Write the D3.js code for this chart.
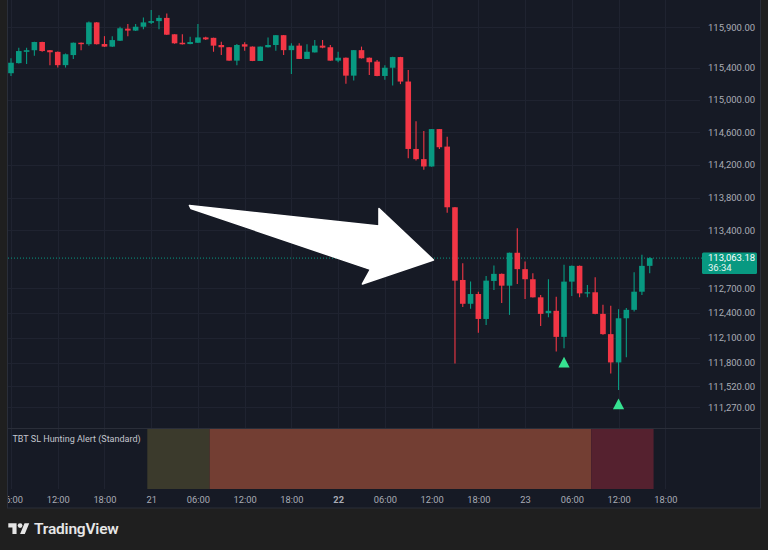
<!DOCTYPE html>
<html><head><meta charset="utf-8">
<script src="https://cdn.jsdelivr.net/npm/d3@7"></script>
<style>
html,body{margin:0;padding:0;background:#1f1f1f;}
svg{display:block;}
text{font-family:Roboto,"Noto Sans",sans-serif;}
</style></head><body>
<svg id="c" width="768" height="550"></svg>
<script>
// ---------- DATA ----------
const startTime = "2025-08-20T06:00:00"; // first hourly candle
const opens  = [115330,115455,115595,115615,115717,115615,115595,115430,115555,115708,
  115690,115961,115692,115660,115733,115883,115859,115907,115956,115977,
  116017,115813,115708,115692,115708,115774,115769,115680,115652,115486,
  115689,115660,115482,115652,115680,115802,115616,115672,115507,115588,
  115672,115652,115486,115522,115300,115616,115522,115474,115296,115398,
  115530,115227,114396,114271,114181,114640,114425,113682,112798,112510,
  112628,112327,112786,112872,112729,113128,112929,112807,112588,112397,
  112425,112111,112778,112969,112636,112649,112388,112144,111804,112335,
  112437,112656,112969];
const highs  = [115515,115645,115645,115720,115720,115618,115600,115575,115710,115710,
  115973,115965,115790,115790,115907,115940,115940,116022,116115,116050,
  116071,115815,115813,115782,115940,115782,115771,115720,115656,115692,
  115713,115662,115662,115774,115803,115803,115701,115701,115689,115741,
  115741,115680,115596,115525,115618,115660,115525,115494,115430,115533,
  115533,115370,114738,114616,114642,114642,114546,113685,113002,112778,
  112656,112847,112973,112875,113130,113426,113022,112880,112616,112807,
  112595,112981,112972,112972,112738,112831,112498,112486,112445,112458,
  112892,113103,113075];
const lows   = [115295,115450,115445,115545,115595,115430,115400,115400,115505,115615,
  115670,115685,115655,115655,115730,115790,115855,115876,115940,115876,
  115803,115696,115686,115689,115706,115741,115596,115555,115483,115430,
  115608,115480,115480,115650,115608,115555,115321,115505,115505,115586,
  115640,115483,115466,115199,115239,115512,115309,115293,115248,115178,
  115195,114283,114254,114140,114178,114396,113616,111792,112470,112449,
  112160,112254,112677,112518,112376,112750,112567,112585,112242,112348,
  111934,111975,112604,112588,112588,112385,112137,111670,111473,111865,
  112416,112616,112880];
const closes = [115460,115605,115615,115717,115605,115590,115430,115565,115708,115690,
  115961,115690,115660,115741,115888,115859,115907,115961,115977,116017,
  115808,115701,115689,115717,115774,115750,115672,115652,115486,115680,
  115660,115482,115660,115680,115802,115616,115672,115507,115596,115672,
  115647,115486,115522,115300,115616,115515,115466,115296,115398,115530,
  115227,114396,114271,114181,114640,114417,113682,112790,112510,112628,
  112327,112790,112872,112729,113128,112929,112807,112588,112388,112425,
  112111,112778,112969,112636,112649,112388,112144,111804,112335,112437,
  112656,112969,113063.18];
const priceTicks = [115900,115400,115000,114600,114200,113800,113400,112700,112400,112100,111800,111520,111270];
const lastPrice = 113063.18;
const countdown = "36:34";
const signalIndex = [71, 78];               // buy-signal triangles (candle index)
const zoneFrom  = [18, 26, 75];             // indicator background zones (candle index)
const zoneTo    = [25, 74, 82];
const zoneState = ["watch", "hunt", "alert"];
const indicatorTitle = "TBT SL Hunting Alert (Standard)";
// annotation arrow, in (candle index, price)
const arrowIdx   = [22.91, 47.24, 47.24, 54.24, 45.12, 46.15, 23.10];
const arrowPrice = [113704, 113454, 113667, 113040, 112750, 112926, 113667];

// ---------- STYLE ----------
const C = {
  outer:"#1f1f1f", panel:"#161a25", grid:"#1f2330", sep:"#2a2e39",
  up:"#089981", down:"#f23645", text:"#a9acb5", signal:"#36e291",
  zone:{watch:"#3b3a2c", hunt:"#733e33", alert:"#55212f"}
};
const svg = d3.select("#c");
const PL = 7, PR = 761, PB = 508, plotR = 700, mainB = 428, indB = 489;

svg.append("rect").attr("width",768).attr("height",550).attr("fill",C.outer);
svg.append("rect").attr("x",PL+0.5).attr("y",-1).attr("width",PR-PL-1).attr("height",PB+1)
  .attr("fill",C.panel).attr("stroke",C.sep);

const defs = svg.append("defs");
defs.append("clipPath").attr("id","plot").append("rect").attr("x",PL+1).attr("y",0).attr("width",plotR-PL-1).attr("height",mainB);
defs.append("clipPath").attr("id","xax").append("rect").attr("x",PL+1).attr("y",indB).attr("width",PR-PL-2).attr("height",PB-indB);

const t0 = new Date(startTime);
const tAt = i => new Date(+t0 + i*3600e3);
const data = opens.map((o,i)=>({t:tAt(i), o, h:highs[i], l:lows[i], c:closes[i]}));

const x = d3.scaleTime().domain([tAt(0), tAt(82)]).range([11, 649.7]);
const y = d3.scaleLog().domain([111270, 115900]).range([407, 27.3]);

// grid
const xTicks = d3.timeHour.every(6).range(tAt(0), tAt(84.5));
svg.append("g").selectAll("line").data(xTicks).join("line")
  .attr("x1",d=>Math.round(x(d))+0.5).attr("x2",d=>Math.round(x(d))+0.5)
  .attr("y1",0).attr("y2",indB).attr("stroke",C.grid);
svg.append("g").selectAll("line").data(priceTicks).join("line")
  .attr("x1",PL+1).attr("x2",plotR).attr("y1",d=>Math.round(y(d))+0.5).attr("y2",d=>Math.round(y(d))+0.5)
  .attr("stroke",C.grid);

// indicator pane
svg.append("line").attr("x1",PL+1).attr("x2",PR-1).attr("y1",mainB+0.5).attr("y2",mainB+0.5).attr("stroke",C.sep);
svg.append("g").selectAll("rect").data(zoneFrom).join("rect")
  .attr("x",(d,i)=>x(tAt(d-0.5))).attr("width",(d,i)=>x(tAt(zoneTo[i]+0.5))-x(tAt(d-0.5)))
  .attr("y",mainB+1).attr("height",indB-mainB-1)
  .attr("fill",(d,i)=>C.zone[zoneState[i]]);
svg.append("text").attr("x",12.5).attr("y",439).attr("dy","0.35em")
  .attr("fill","#c3c6ce").attr("font-size","9px").text(indicatorTitle);

// current price line
svg.append("line").attr("x1",PL+1).attr("x2",plotR+2).attr("y1",y(lastPrice)).attr("y2",y(lastPrice))
  .attr("stroke",C.up).attr("stroke-dasharray","1 2").attr("stroke-width",1);

// candles
const g = svg.append("g").attr("clip-path","url(#plot)");
const bw = 5.6;
const cg = g.selectAll("g.c").data(data).join("g").attr("class","c");
cg.append("line")
  .attr("x1",d=>x(d.t)).attr("x2",d=>x(d.t))
  .attr("y1",d=>y(d.h)).attr("y2",d=>y(d.l))
  .attr("stroke",d=>d.c>=d.o?C.up:C.down).attr("stroke-width",1.1);
cg.append("rect")
  .attr("x",d=>x(d.t)-bw/2).attr("width",bw)
  .attr("y",d=>y(Math.max(d.o,d.c)))
  .attr("height",d=>Math.max(1.2, Math.abs(y(d.o)-y(d.c))))
  .attr("fill",d=>d.c>=d.o?C.up:C.down);

// signal triangles
g.selectAll("path.sig").data(signalIndex).join("path").attr("class","sig")
  .attr("transform",d=>`translate(${x(data[d].t)},${y(data[d].l)+14})`)
  .attr("d","M0,-5.4L5.6,5.2L-5.6,5.2Z").attr("fill",C.signal);

// annotation arrow
const arrowPts = arrowIdx.map((d,i)=>[x(tAt(d)), y(arrowPrice[i])]);
svg.append("path").attr("d", d3.line()(arrowPts)+"Z")
  .attr("fill","#ffffff").attr("stroke","#ffffff").attr("stroke-width",1.5).attr("stroke-linejoin","round");

// price axis
const yAx = svg.append("g").attr("transform",`translate(${plotR},0)`)
  .call(d3.axisRight(y).tickValues(priceTicks).tickSize(0).tickPadding(8)
    .tickFormat(d=>d3.format(",.2f")(d)));
yAx.select(".domain").remove();
yAx.selectAll("text").attr("fill",C.text).attr("font-size","9.5px").attr("font-family","Roboto");

// last price label
const ly = y(lastPrice);
svg.append("rect").attr("x",702).attr("y",ly-5.5).attr("width",55).attr("height",21.5).attr("rx",1.5).attr("fill",C.up);
svg.append("text").attr("x",708).attr("y",ly).attr("dy","0.35em").attr("fill","#ffffff").attr("font-size","9.5px").text(d3.format(",.2f")(lastPrice));
svg.append("text").attr("x",708).attr("y",ly+10).attr("dy","0.35em").attr("fill","#e6f5f1").attr("font-size","9.5px").text(countdown);

// time axis
const fmt = d => d.getHours()===0 ? String(d.getDate()) : d3.timeFormat("%H:%M")(d);
const xAx = svg.append("g").attr("clip-path","url(#xax)").append("g").attr("transform",`translate(0,${indB})`)
  .call(d3.axisBottom(x).tickValues(xTicks).tickSize(0).tickPadding(7).tickFormat(fmt));
xAx.select(".domain").remove();
xAx.selectAll("text").attr("fill",C.text).attr("font-size","9.3px").attr("font-family","Roboto")
  .attr("font-weight",d=>fmt(d)==="22"?"bold":"normal");

// TradingView logo
const logo = svg.append("g").attr("transform","translate(8.3,520.9) scale(0.59)").attr("fill","#e6e6e6");
logo.append("path").attr("d","M14 22H7V11H0V4h14v18zM28 22h-8l7.5-18h8L28 22z");
logo.append("circle").attr("cx",20).attr("cy",8).attr("r",4);
svg.append("text").attr("x",34).attr("y",534).attr("fill","#e6e6e6")
  .attr("font-family","Inter, Roboto, sans-serif").attr("font-weight",600).attr("font-size","15.5px")
  .attr("letter-spacing","-0.2px").text("TradingView");
</script>
</body></html>
